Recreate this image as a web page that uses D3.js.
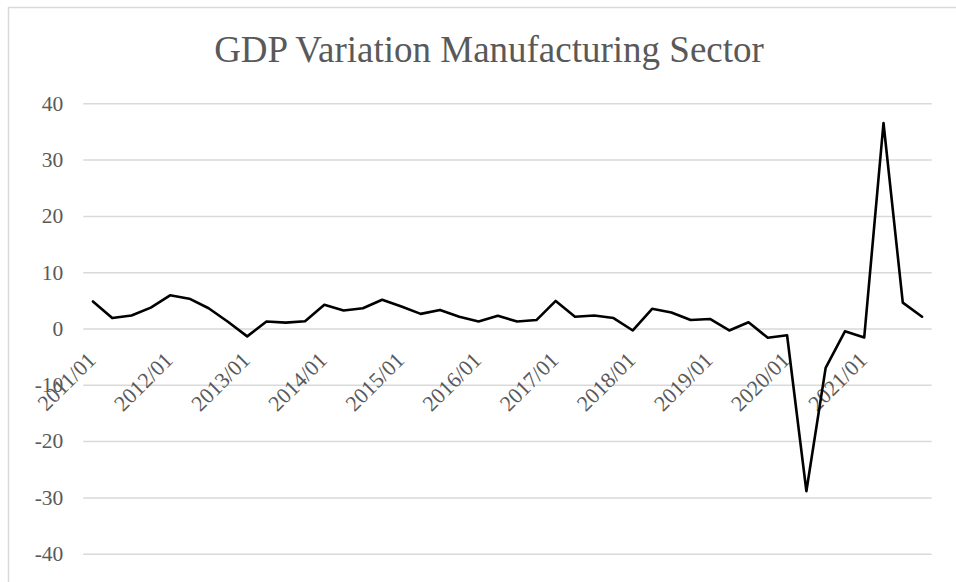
<!DOCTYPE html>
<html>
<head>
<meta charset="utf-8">
<script src="https://cdn.jsdelivr.net/npm/d3@7"></script>
<style>
  html, body { margin: 0; padding: 0; background: #fff; }
  svg { display: block; font-family: "Liberation Serif", "Times New Roman", serif; }
</style>
</head>
<body>
<svg id="chart" width="956" height="582"></svg>
<script>
// Quarterly periods (first month of each quarter)
const quarters = [
  "2011/01","2011/04","2011/07","2011/10",
  "2012/01","2012/04","2012/07","2012/10",
  "2013/01","2013/04","2013/07","2013/10",
  "2014/01","2014/04","2014/07","2014/10",
  "2015/01","2015/04","2015/07","2015/10",
  "2016/01","2016/04","2016/07","2016/10",
  "2017/01","2017/04","2017/07","2017/10",
  "2018/01","2018/04","2018/07","2018/10",
  "2019/01","2019/04","2019/07","2019/10",
  "2020/01","2020/04","2020/07","2020/10",
  "2021/01","2021/04","2021/07","2021/10"
];

// GDP variation of the manufacturing sector (%)
const gdpVariation = [
  4.8, 1.85, 2.3, 3.7,
  5.9, 5.3, 3.6, 1.2,
  -1.4, 1.25, 1.05, 1.3,
  4.2, 3.2, 3.6, 5.1,
  3.9, 2.6, 3.3, 2.1,
  1.25, 2.25, 1.25, 1.5,
  4.9, 2.1, 2.3, 1.85,
  -0.35, 3.5, 2.85, 1.5,
  1.7, -0.35, 1.1, -1.65,
  -1.2, -28.9, -7.0, -0.5,
  -1.6, 36.5, 4.6, 2.1
];

const yTicks = [40, 30, 20, 10, 0, -10, -20, -30, -40];
const xTickLabels = quarters.filter((q, i) => i % 4 === 0);
const chartTitle = "GDP Variation Manufacturing Sector";

const svg = d3.select("#chart");
const textColor = "#595959";
const gridColor = "#d9d9d9";
const serif = "\"Liberation Serif\", \"Times New Roman\", serif";

// Chart frame
svg.append("rect")
  .attr("x", 8.5).attr("y", 7.5)
  .attr("width", 1000).attr("height", 1000)
  .attr("fill", "none")
  .attr("stroke", gridColor)
  .attr("stroke-width", 1.5);

const plot = { left: 83.3, right: 931.7, top: 103.3, bottom: 553.7 };

const x = d3.scaleBand()
  .domain(quarters)
  .range([plot.left, plot.right])
  .padding(0);

const y = d3.scaleLinear()
  .domain([-40, 40])
  .range([plot.bottom, plot.top]);

const xc = q => x(q) + x.bandwidth() / 2;

// Title
svg.append("text")
  .attr("x", 489)
  .attr("y", 61.7)
  .attr("text-anchor", "middle")
  .attr("fill", textColor)
  .style("font-size", "37px")
  .text(chartTitle);

// Horizontal gridlines and value labels
const yAxis = d3.axisLeft(y)
  .tickValues(yTicks)
  .tickSize(-(plot.right - plot.left))
  .tickPadding(20)
  .tickFormat(d => String(d));

const gy = svg.append("g")
  .attr("transform", `translate(${plot.left},0)`)
  .call(yAxis);
gy.select(".domain").remove();
gy.selectAll(".tick line")
  .attr("stroke", gridColor)
  .attr("stroke-width", 1.5);
gy.selectAll(".tick text")
  .attr("fill", textColor)
  .style("font-size", "21.5px")
  .style("font-family", serif);

// Category axis labels at the zero line, rotated
const xAxis = d3.axisBottom(x)
  .tickValues(xTickLabels)
  .tickSize(0)
  .tickPadding(0);

const gx = svg.append("g")
  .attr("transform", `translate(0,${y(0)})`)
  .call(xAxis);
gx.select(".domain").remove();
gx.selectAll(".tick text")
  .attr("fill", textColor)
  .style("font-size", "22px")
  .style("font-family", serif)
  .attr("text-anchor", "end")
  .attr("dy", null)
  .attr("y", 0)
  .attr("transform", "translate(4,33) rotate(-45)");

// Series line
const line = d3.line()
  .x((d, i) => xc(quarters[i]))
  .y(d => y(d));

svg.append("path")
  .datum(gdpVariation)
  .attr("d", line)
  .attr("fill", "none")
  .attr("stroke", "#000")
  .attr("stroke-width", 2.6)
  .attr("stroke-linejoin", "round")
  .attr("stroke-linecap", "round");
</script>
</body>
</html>
